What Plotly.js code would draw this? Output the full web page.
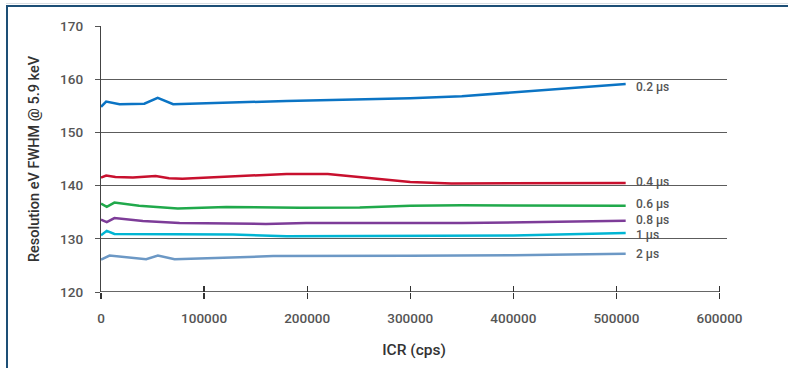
<!DOCTYPE html>
<html>
<head>
<meta charset="utf-8">
<script src="https://cdn.plot.ly/plotly-3.0.1.min.js"></script>
<style>
  html, body { margin: 0; padding: 0; background: #ffffff; }
  #wrap { position: relative; width: 788px; height: 368px; overflow: hidden; }
  #chart { position: absolute; left: 0; top: 0; width: 788px; height: 368px; }
  #frame { position: absolute; left: 6px; top: 5px; width: 790px; height: 380px;
           border-top: 2px solid #1d4f76; border-left: 2px solid #1d4f76; pointer-events: none; }
  #shade { position: absolute; left: 6px; top: 3px; width: 790px; height: 1px; background: #d8dde2; }
</style>
</head>
<body>
<div id="wrap">
  <div id="chart"></div>
  <div id="shade"></div>
  <div id="frame"></div>
</div>
<script>
// ICR (cps) and resolution (eV FWHM @ 5.9 keV) per peaking time
const icr02 = [0, 5000, 18000, 42000, 55000, 70000, 180000, 300000, 350000, 400000, 450000, 509000];
const res02 = [154.8, 155.8, 155.3, 155.4, 156.5, 155.3, 155.9, 156.4, 156.8, 157.5, 158.2, 159.1];

const icr04 = [0, 5000, 14000, 31000, 53000, 66000, 79000, 180000, 220000, 300000, 340000, 400000, 509000];
const res04 = [141.5, 141.9, 141.6, 141.5, 141.8, 141.4, 141.3, 142.2, 142.2, 140.7, 140.4, 140.4, 140.5];

const icr06 = [0, 5600, 13000, 37000, 74500, 121500, 192700, 251000, 300000, 350000, 509000];
const res06 = [136.6, 136.0, 136.8, 136.2, 135.7, 136.0, 135.85, 135.9, 136.2, 136.3, 136.2];

const icr08 = [0, 5600, 13000, 40600, 76200, 128000, 160000, 199000, 350000, 509000];
const res08 = [133.6, 133.15, 133.9, 133.35, 132.95, 132.8, 132.8, 132.95, 132.95, 133.4];

const icr1 = [0, 5600, 13000, 128000, 180000, 300000, 400000, 509000];
const res1 = [130.65, 131.5, 130.9, 130.8, 130.5, 130.6, 130.6, 131.1];

const icr2 = [0, 8300, 43800, 55200, 71400, 167000, 300000, 400000, 509000];
const res2 = [126.1, 126.85, 126.15, 126.85, 126.15, 126.75, 126.8, 126.9, 127.2];

const seriesNames = ['0.2 µs', '0.4 µs', '0.6 µs', '0.8 µs', '1 µs', '2 µs'];
const xTicks = [0, 100000, 200000, 300000, 400000, 500000, 600000];
const yTicks = [120, 130, 140, 150, 160, 170];
const yGrid = [130, 140, 150, 160, 170];

const xs = [icr02, icr04, icr06, icr08, icr1, icr2];
const ys = [res02, res04, res06, res08, res1, res2];
const colors = ['#0b74c4', '#c8102e', '#20a94b', '#7d3c98', '#00b5d3', '#6c98c5'];
const labelShift = [-3, 1, 2, 1, -2, 0];

const traces = xs.map((x, i) => ({
  x: x, y: ys[i], type: 'scatter', mode: 'lines', name: seriesNames[i],
  line: { color: colors[i], width: 2.5 }, hoverinfo: 'skip'
}));
// invisible trace on overlay axes so they render
traces.push({ x: [0], y: [120], xaxis: 'x2', yaxis: 'y2', mode: 'markers',
  marker: { opacity: 0 }, showlegend: false, hoverinfo: 'skip' });

const annotations = xs.map((x, i) => ({
  x: x[x.length - 1], y: ys[i][ys[i].length - 1], xref: 'x', yref: 'y',
  text: seriesNames[i], showarrow: false, xanchor: 'left', yanchor: 'middle',
  xshift: 8, yshift: labelShift[i],
  font: { family: 'Roboto, sans-serif', size: 12, color: '#555555', weight: 500 }
}));

const xRange = [0, 607300];
const yRange = [120, 170];
const tickFont = { family: 'Roboto, sans-serif', size: 13.5, color: '#555555', weight: 500 };

const layout = {
  width: 788, height: 368,
  margin: { l: 101, r: 61, t: 26, b: 75.5, pad: 0 },
  paper_bgcolor: 'rgba(0,0,0,0)', plot_bgcolor: '#ffffff',
  showlegend: false,
  xaxis: {
    range: xRange, tickvals: xTicks, ticktext: xTicks.map(String),
    showgrid: false, zeroline: false, showline: false,
    ticks: 'outside', ticklen: 6, tickwidth: 1.2, tickcolor: '#333333',
    ticklabelstandoff: 8, tickfont: tickFont,
    title: { text: 'ICR (cps)', standoff: 18,
      font: { family: 'Roboto, sans-serif', size: 15.5, color: '#333333', weight: 500 } }
  },
  xaxis2: {
    range: xRange, tickvals: xTicks, overlaying: 'x', anchor: 'y',
    showgrid: false, zeroline: false, showline: false, showticklabels: false,
    ticks: 'inside', ticklen: 6, tickwidth: 1.2, tickcolor: '#333333'
  },
  yaxis: {
    range: yRange, tickvals: yTicks, ticktext: yTicks.map(String),
    showgrid: false, zeroline: false, showline: true, linecolor: '#444444', linewidth: 1.2,
    ticks: 'outside', ticklen: 5, tickwidth: 1, tickcolor: '#555555',
    ticklabelstandoff: 9, tickfont: tickFont,
    title: { text: 'Resolution eV FWHM @ 5.9 keV', standoff: 17,
      font: { family: 'Roboto, sans-serif', size: 14.5, color: '#333333', weight: 500 } }
  },
  yaxis2: {
    range: yRange, tickvals: yGrid, overlaying: 'y', anchor: 'x', side: 'left',
    showgrid: true, gridcolor: '#5c5c5c', gridwidth: 1,
    zeroline: false, showline: false, showticklabels: false, ticks: ''
  },
  shapes: [{
    type: 'line', xref: 'x', yref: 'y', x0: xTicks[0], x1: xTicks[xTicks.length - 1],
    y0: yRange[0], y1: yRange[0], line: { color: '#333333', width: 1.5 }
  }],
  annotations: annotations
};

Plotly.newPlot('chart', traces, layout, { displayModeBar: false, staticPlot: true });
</script>
</body>
</html>
